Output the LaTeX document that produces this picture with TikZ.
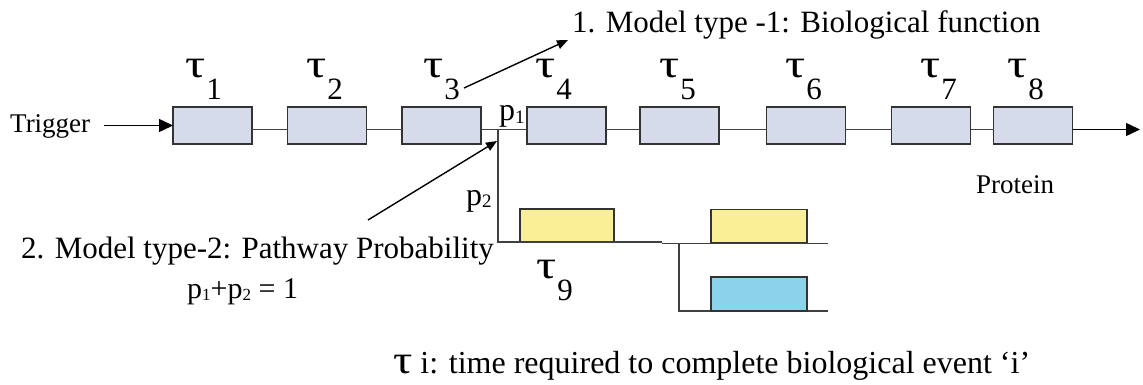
\documentclass[tikz,border=0pt]{standalone}
\usepackage{fontspec}
\usepackage{graphicx}
\setmainfont{Liberation Serif}
\usetikzlibrary{arrows.meta}

\definecolor{boxfill}{HTML}{D5DBEA}
\definecolor{boxline}{HTML}{333333}
\definecolor{wirecol}{HTML}{404040}
\definecolor{yellowfill}{HTML}{F8EF96}
\definecolor{bluefill}{HTML}{8BD3EA}

\newcommand{\fs}[1]{\fontsize{#1}{#1}\selectfont}
% tau with a large, lowered index
\newcommand{\taulabel}[1]{{\fs{40}\scalebox{1.25}[1]{τ}}\kern1pt\raisebox{-22pt}{\fs{31}#1}}

\tikzset{
  stage/.style={draw=boxline, line width=1.6pt, fill=boxfill,
    minimum width=79pt, minimum height=37pt, inner sep=0pt, outer sep=0pt},
  altstage/.style={draw=boxline, line width=1.5pt,
    minimum height=33pt, inner sep=0pt, outer sep=0pt},
  wire/.style={draw=wirecol, line width=1.6pt},
  txt/.style={inner sep=0pt, anchor=base west},
  bigarrow/.style={draw=black, line width=1.5pt, -{Triangle[length=14pt,width=13pt]}},
  thinarrow/.style={draw=black, line width=1.4pt, -{Triangle[length=11pt,width=9pt]}},
}

\begin{document}
\begin{tikzpicture}[x=1pt, y=-1pt]
\useasboundingbox (0,0) rectangle (1143,385);

% main chain of stages
\node[stage] (b1) at (212.5,125.5) {};
\node[stage] (b2) at (327,125.5) {};
\node[stage] (b3) at (441.5,125.5) {};
\node[stage] (b4) at (566.5,125.5) {};
\node[stage] (b5) at (679.5,125.5) {};
\node[stage] (b6) at (806,125.5) {};
\node[stage] (b7) at (931,125.5) {};
\node[stage] (b8) at (1033,125.5) {};

\foreach \a/\b in {b1/b2,b2/b3,b3/b4,b4/b5,b5/b6,b6/b7,b7/b8}
  \draw[wire] ([yshift=-4pt]\a.east) -- ([yshift=-4pt]\b.west);

% stage labels
\node[txt] (t1) at (185,78) {\taulabel{1}};
\node[txt] (t2) at (306,78) {\taulabel{2}};
\node[txt] (t3) at (423,78) {\taulabel{3}};
\node[txt] (t4) at (535,78) {\taulabel{4}};
\node[txt] (t5) at (659,78) {\taulabel{5}};
\node[txt] (t6) at (785,78) {\taulabel{6}};
\node[txt] (t7) at (920,78) {\taulabel{7}};
\node[txt] (t8) at (1007,78) {\taulabel{8}};

% input and output
\node[txt, font=\fs{27}] (trig) at (10,133) {Trigger};
\draw[bigarrow, shorten <=14pt] (trig.east |- b1.west) -- (b1.west);
\coordinate (out) at (1140,129.5);
\draw[bigarrow] ([yshift=-4pt]b8.east) -- (out);
\node[txt, font=\fs{27}] (prot) at (976,193) {Protein};

% branch point
\coordinate (j) at (498,129.5);
\node[txt, font=\fs{32}] (p1) at (499,121) {p\raisebox{-3pt}{\fs{19}1}};
\node[txt, font=\fs{32}] (p2) at (466,205) {p\raisebox{-2pt}{\fs{19}2}};

% alternative branch
\node[altstage, fill=yellowfill, minimum width=94pt] (y1) at (567,225.5) {};
\coordinate (s1) at (662,242);
\draw[wire] (j) |- (s1);
\coordinate (s2) at (662,243.5);
\coordinate (e1) at (828,243.5);
\draw[wire] (s2) -- (e1);
\coordinate (v) at (679,243.5);
\coordinate (e2) at (828,311);
\draw[wire] (v) |- (e2);
\node[altstage, fill=yellowfill, minimum width=96pt] (y2) at (759,226) {};
\node[altstage, fill=bluefill, minimum width=96pt, minimum height=34pt] (bl) at (759,294) {};
\node[txt] (t9) at (536,278) {\taulabel{9}};

% model annotations
\node[txt, font=\fs{31}] (m1) at (572,33) {1. Model type -1: Biological function};
\coordinate (m1s) at (464,88);
\coordinate (m1t) at (568,40);
\draw[thinarrow] (m1s) -- (m1t);

\node[txt, font=\fs{31}] (m2) at (21,258) {2. Model type-2: Pathway Probability};
\coordinate (m2s) at (368,220);
\coordinate (m2t) at (497,141);
\draw[thinarrow] (m2s) -- (m2t);
\node[txt, font=\fs{30}] (sum) at (187,298) {p\raisebox{-2pt}{\fs{17}1}+p\raisebox{-2pt}{\fs{17}2} = 1};

% legend
\node[txt, font=\fs{32}] (cap) at (393,373) {{\fs{40}\scalebox{1.2}[1]{τ}} i: time required to complete biological event ‘i’};
\end{tikzpicture}
\end{document}
